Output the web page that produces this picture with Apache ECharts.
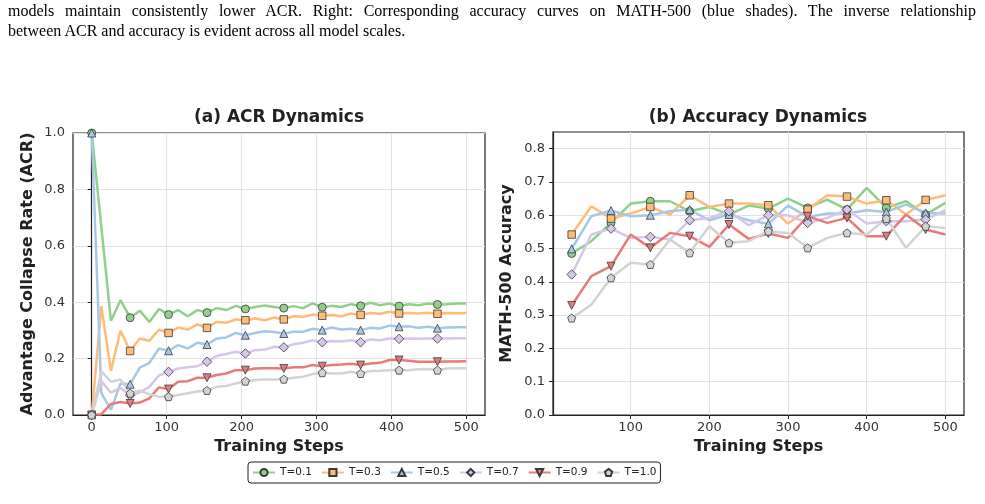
<!DOCTYPE html>
<html>
<head>
<meta charset="utf-8">
<script src="https://cdn.jsdelivr.net/npm/echarts@6/dist/echarts.min.js"></script>
<style>
body { margin: 0; background: #fff; }
#main { position: absolute; left: 0; top: 0; width: 985px; height: 504px; }
#cap { position: absolute; left: 8px; top: 1px; width: 968px; font-family: "Liberation Serif", serif; font-size: 16px; line-height: 20px; color: #000; }
.j { text-align: justify; text-align-last: justify; }
</style>
</head>
<body>
<div id="main"></div>
<div id="cap">
  <div class="j">models maintain consistently lower ACR. Right: Corresponding accuracy curves on MATH-500 (blue shades). The inverse relationship</div>
  <div>between ACR and accuracy is evident across all model scales.</div>
</div>
<script>
// 数据
var names = ['T=0.1', 'T=0.3', 'T=0.5', 'T=0.7', 'T=0.9', 'T=1.0'];

var acrSteps = [0, 12.82, 25.64, 38.46, 51.28, 64.10, 76.92, 89.74, 102.56, 115.38,
    128.21, 141.03, 153.85, 166.67, 179.49, 192.31, 205.13, 217.95, 230.77, 243.59,
    256.41, 269.23, 282.05, 294.87, 307.69, 320.51, 333.33, 346.15, 358.97, 371.79,
    384.62, 397.44, 410.26, 423.08, 435.90, 448.72, 461.54, 474.36, 487.18, 500];

var acrT01 = [1.0, 0.667, 0.334, 0.407, 0.345, 0.37, 0.33, 0.376, 0.356, 0.372, 0.35, 0.372, 0.363, 0.379, 0.372, 0.387, 0.376, 0.383, 0.388, 0.383, 0.379, 0.386, 0.379, 0.396, 0.382, 0.387, 0.383, 0.393, 0.387, 0.398, 0.389, 0.395, 0.386, 0.393, 0.389, 0.395, 0.392, 0.393, 0.395, 0.395];
var acrT03 = [0, 0.386, 0.157, 0.299, 0.227, 0.271, 0.263, 0.303, 0.291, 0.31, 0.303, 0.321, 0.309, 0.33, 0.327, 0.339, 0.336, 0.342, 0.336, 0.346, 0.339, 0.35, 0.348, 0.356, 0.352, 0.355, 0.35, 0.36, 0.355, 0.362, 0.359, 0.366, 0.36, 0.362, 0.36, 0.363, 0.359, 0.362, 0.361, 0.362];
var acrT05 = [1.0, 0.078, 0.018, 0.112, 0.109, 0.168, 0.185, 0.236, 0.228, 0.248, 0.236, 0.256, 0.25, 0.271, 0.275, 0.291, 0.283, 0.291, 0.297, 0.294, 0.289, 0.295, 0.295, 0.306, 0.301, 0.31, 0.303, 0.306, 0.301, 0.309, 0.307, 0.317, 0.313, 0.315, 0.309, 0.313, 0.308, 0.31, 0.311, 0.311];
var acrT07 = [0, 0.12, 0.079, 0.096, 0.07, 0.08, 0.1, 0.14, 0.153, 0.165, 0.169, 0.173, 0.189, 0.209, 0.216, 0.224, 0.218, 0.23, 0.232, 0.242, 0.24, 0.251, 0.256, 0.265, 0.258, 0.262, 0.261, 0.265, 0.258, 0.268, 0.265, 0.271, 0.27, 0.271, 0.27, 0.271, 0.271, 0.271, 0.272, 0.272];
var acrT09 = [0, 0.003, 0.039, 0.046, 0.041, 0.044, 0.059, 0.098, 0.092, 0.118, 0.12, 0.132, 0.132, 0.142, 0.147, 0.159, 0.159, 0.165, 0.166, 0.166, 0.165, 0.169, 0.169, 0.177, 0.173, 0.177, 0.179, 0.182, 0.177, 0.183, 0.185, 0.195, 0.195, 0.192, 0.189, 0.189, 0.189, 0.19, 0.19, 0.191];
var acrT10 = [0, 0.155, 0.118, 0.126, 0.077, 0.086, 0.074, 0.065, 0.065, 0.071, 0.077, 0.083, 0.087, 0.1, 0.103, 0.112, 0.12, 0.124, 0.126, 0.126, 0.127, 0.132, 0.136, 0.145, 0.15, 0.147, 0.147, 0.153, 0.147, 0.156, 0.157, 0.159, 0.159, 0.159, 0.162, 0.163, 0.159, 0.165, 0.166, 0.166];

var accSteps = [25, 50, 75, 100, 125, 150, 175, 200, 225, 250, 275, 300, 325, 350, 375, 400, 425, 450, 475, 500];

var accT01 = [0.485, 0.522, 0.577, 0.635, 0.642, 0.642, 0.612, 0.625, 0.602, 0.629, 0.62, 0.65, 0.622, 0.647, 0.617, 0.682, 0.622, 0.642, 0.602, 0.637];
var accT03 = [0.542, 0.627, 0.59, 0.605, 0.625, 0.602, 0.66, 0.625, 0.635, 0.635, 0.63, 0.575, 0.617, 0.66, 0.656, 0.635, 0.645, 0.602, 0.646, 0.66];
var accT05 = [0.499, 0.597, 0.614, 0.597, 0.6, 0.612, 0.617, 0.585, 0.602, 0.585, 0.574, 0.629, 0.595, 0.605, 0.605, 0.615, 0.61, 0.632, 0.607, 0.605];
var accT07 = [0.422, 0.542, 0.56, 0.532, 0.535, 0.527, 0.585, 0.592, 0.612, 0.57, 0.6, 0.6, 0.577, 0.592, 0.617, 0.575, 0.582, 0.582, 0.587, 0.615];
var accT09 = [0.329, 0.417, 0.447, 0.542, 0.502, 0.547, 0.537, 0.505, 0.572, 0.529, 0.545, 0.532, 0.597, 0.577, 0.592, 0.537, 0.537, 0.602, 0.557, 0.542];
var accT10 = [0.291, 0.331, 0.412, 0.457, 0.452, 0.527, 0.487, 0.567, 0.517, 0.522, 0.552, 0.547, 0.502, 0.532, 0.547, 0.542, 0.59, 0.502, 0.567, 0.562];

var acrXTicks = [0, 100, 200, 300, 400, 500];
var accXTicks = [100, 200, 300, 400, 500];
var acrYTicks = [0, 0.2, 0.4, 0.6, 0.8, 1.0];
var accYTicks = [0, 0.1, 0.2, 0.3, 0.4, 0.5, 0.6, 0.7, 0.8];

// 样式
var colors = ['#8fd08a', '#ffbb78', '#a6c8e6', '#d6c6e8', '#e57b7b', '#d3d3d3'];
var symbols = ['circle', 'rect', 'triangle', 'diamond',
    'path://M-1,-1 L1,-1 L0,1 Z',
    'path://M0,-1 L0.951,-0.309 L0.588,0.809 L-0.588,0.809 L-0.951,-0.309 Z'];
var sizes = [8, 7.5, 8, 9.5, 8, 8];

var acrData = [acrT01, acrT03, acrT05, acrT07, acrT09, acrT10];
var accData = [accT01, accT03, accT05, accT07, accT09, accT10];

function makeSeries(k, xs, ys, every, idx) {
    return {
        name: names[k],
        type: 'line',
        xAxisIndex: idx,
        yAxisIndex: idx,
        data: xs.map(function (x, i) { return [x, ys[i]]; }),
        symbol: symbols[k],
        showSymbol: true,
        showAllSymbol: true,
        symbolSize: function (v, p) { return p.dataIndex % every === 0 ? sizes[k] : 0; },
        lineStyle: { color: colors[k], width: 2.5 },
        itemStyle: { color: colors[k], borderColor: '#3a3a3a', borderWidth: 0.8 },
        emphasis: { disabled: true }
    };
}

var series = [];
for (var k = 0; k < 6; k++) {
    series.push(makeSeries(k, acrSteps, acrData[k], 4, 0));
    series.push(makeSeries(k, accSteps, accData[k], 2, 1));
}

var tickFont = { fontFamily: 'DejaVu Sans', fontSize: 13, color: '#333' };
var nameFont = { fontFamily: 'DejaVu Sans', fontSize: 16, fontWeight: 'bold', color: '#222' };

function xAx(idx, min, max, ticks) {
    return {
        type: 'value', gridIndex: idx, min: min, max: max,
        name: 'Training Steps', nameLocation: 'middle', nameGap: 24, nameTextStyle: nameFont,
        axisLine: { show: true, lineStyle: { color: '#222', width: 1.2 } },
        axisTick: { show: true, length: 4, customValues: ticks, lineStyle: { color: '#222' } },
        axisLabel: Object.assign({ margin: 6, customValues: ticks }, tickFont),
        splitLine: { show: true, lineStyle: { color: '#e3e3e3', width: 1 } }
    };
}

function yAx(idx, max, ticks, name, gap) {
    return {
        type: 'value', gridIndex: idx, min: 0, max: max,
        name: name, nameLocation: 'middle', nameGap: gap, nameRotate: 90, nameTextStyle: nameFont,
        axisLine: { show: true, lineStyle: { color: '#222', width: 1.2 } },
        axisTick: { show: true, length: 4, customValues: ticks, lineStyle: { color: '#222' } },
        axisLabel: Object.assign({
            margin: 8, customValues: ticks,
            formatter: function (v) { return v.toFixed(1); }
        }, tickFont),
        splitLine: { show: true, lineStyle: { color: '#e3e3e3', width: 1 } }
    };
}

var option = {
    animation: false,
    backgroundColor: 'transparent',
    grid: [
        { left: 73, top: 133, width: 412, height: 282, show: true, borderColor: '#222', borderWidth: 1.2 },
        { left: 553, top: 132, width: 411, height: 283, show: true, borderColor: '#222', borderWidth: 1.2 }
    ],
    xAxis: [
        xAx(0, -25, 525, acrXTicks),
        xAx(1, 1.25, 523.75, accXTicks)
    ],
    yAxis: [
        yAx(0, 1.0, acrYTicks, 'Advantage Collapse Rate (ACR)', 37),
        yAx(1, 0.85, accYTicks, 'MATH-500 Accuracy', 38)
    ],
    graphic: [
        { type: 'text', style: { x: 279, y: 118, text: '(a) ACR Dynamics', align: 'center', verticalAlign: 'middle',
            font: 'bold 17px "DejaVu Sans"', fill: '#222' } },
        { type: 'text', style: { x: 758, y: 118, text: '(b) Accuracy Dynamics', align: 'center', verticalAlign: 'middle',
            font: 'bold 17px "DejaVu Sans"', fill: '#222' } }
    ],
    legend: {
        data: names,
        left: 248, top: 462,
        itemWidth: 22, itemHeight: 9, itemGap: 9,
        padding: [5, 4, 5, 4],
        borderColor: '#222', borderWidth: 1, borderRadius: 3,
        textStyle: { fontFamily: 'DejaVu Sans', fontSize: 10.5, color: '#222' }
    },
    series: series
};

// 初始化
var myChart = echarts.init(document.getElementById('main'));
myChart.setOption(option);
</script>
</body>
</html>
